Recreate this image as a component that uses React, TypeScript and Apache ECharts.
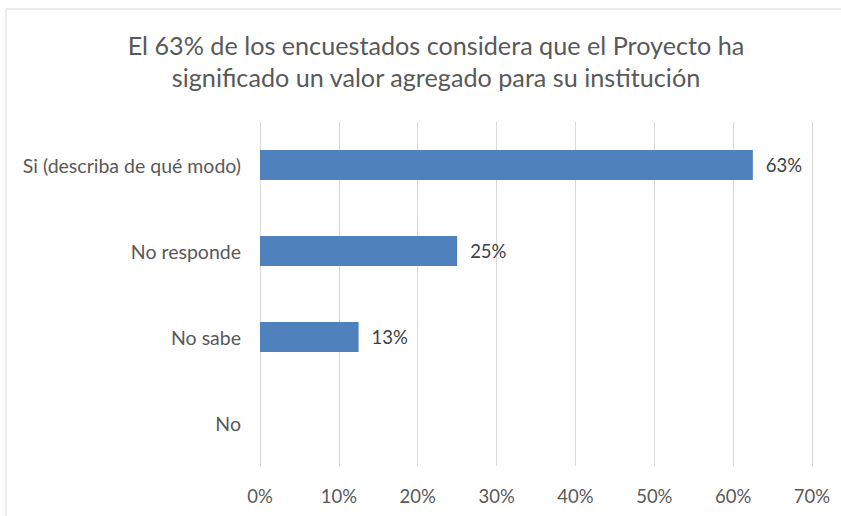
import React, { useEffect, useRef } from "react";
import * as echarts from "echarts";

const titleText = "El 63% de los encuestados considera que el Proyecto ha\nsignificado un valor agregado para su institución";
const categories = ["Si (describa de qué modo)", "No responde", "No sabe", "No"];
const values = [62.5, 25, 12.5, 0];
const axisMax = 70;
const axisInterval = 10;

const FONT = "Lato, 'Open Sans', sans-serif";

export default function App() {
  const ref = useRef<HTMLDivElement>(null);
  useEffect(() => {
    document.body.style.margin = "0";
    const chart = echarts.init(ref.current!, null, { renderer: "svg" });
    chart.setOption({
      animation: false,
      backgroundColor: "#ffffff",
      textStyle: { fontFamily: FONT },
      title: {
        text: titleText,
        left: 431,
        textAlign: "center",
        top: 24,
        textStyle: { fontFamily: FONT, fontSize: 25.2, fontWeight: "normal", color: "#595959", lineHeight: 32 },
      },
      graphic: [
        {
          type: "rect",
          shape: { x: 6, y: 9, width: 900, height: 600 },
          style: { fill: "none", stroke: "#d9d9d9", lineWidth: 1 },
          silent: true,
        },
      ],
      grid: { left: 260, right: 29, top: 122, bottom: 50, containLabel: false },
      xAxis: {
        type: "value",
        min: 0,
        max: axisMax,
        interval: axisInterval,
        axisLine: { show: false },
        axisTick: { show: false },
        axisLabel: { formatter: "{value}%", color: "#595959", fontSize: 18.5, margin: 20, fontFamily: FONT },
        splitLine: { show: true, lineStyle: { color: "#d9d9d9", width: 1 } },
      },
      yAxis: {
        type: "category",
        data: categories,
        inverse: true,
        axisLine: { show: false },
        axisTick: { show: false },
        axisLabel: { color: "#595959", fontSize: 19.5, margin: 19, fontFamily: FONT },
      },
      series: [
        {
          type: "bar",
          data: values,
          barWidth: 30,
          itemStyle: { color: "#4f81bd" },
          label: {
            show: true,
            position: "right",
            distance: 13,
            color: "#404040",
            fontSize: 18.5,
            fontFamily: FONT,
            formatter: (p: any) => (p.value > 0 ? Math.round(p.value) + "%" : ""),
          },
        },
      ],
    });
    return () => chart.dispose();
  }, []);
  return <div ref={ref} style={{ width: 841, height: 516 }} />;
}
